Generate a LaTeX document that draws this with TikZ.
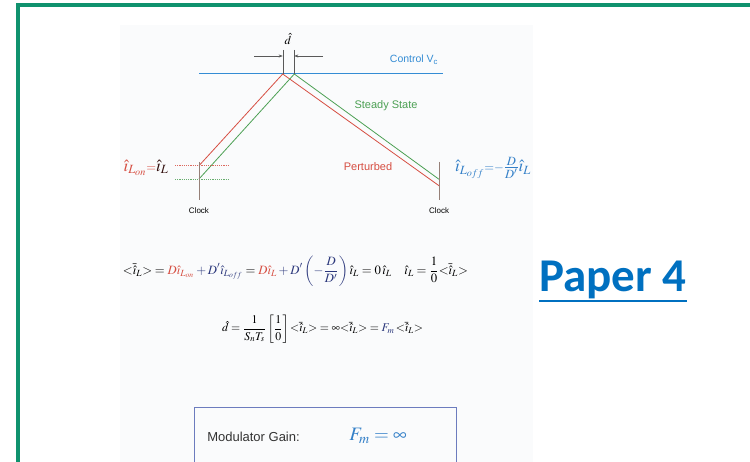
\documentclass[tikz,border=0pt]{standalone}
\usepackage{mathptmx}
\usepackage{fontspec}
\usepackage{graphicx}
\usetikzlibrary{arrows.meta}
\newfontfamily\arialfont{Liberation Sans}
\newfontfamily\calibrifont{Carlito}
\definecolor{framegreen}{RGB}{16,146,110}
\definecolor{ctrlblue}{RGB}{52,140,212}
\definecolor{pertred}{RGB}{214,78,66}
\definecolor{steadygreen}{RGB}{76,160,84}
\definecolor{labelblue}{RGB}{52,128,200}
\definecolor{eqnavy}{RGB}{44,56,124}
\definecolor{boxblue}{RGB}{108,124,190}
\definecolor{paperblue}{RGB}{0,112,192}
\definecolor{panelgray}{RGB}{250,251,252}
\definecolor{clockgray}{RGB}{150,128,120}
\newcommand{\avgi}{{<}\bar{\hat{\imath}}_L{>}}
\begin{document}
\begin{tikzpicture}[x=1pt,y=-1pt,
    txt/.style={inner sep=0pt, font=\arialfont\fontsize{11}{13}\selectfont},
    clk/.style={inner sep=0pt, font=\arialfont\fontsize{8}{9}\selectfont},
    eqn/.style={inner sep=0pt},
    level/.style={line width=0.8pt, dash pattern=on 1.2pt off 1pt}]
    \useasboundingbox (0,0) rectangle (750,462);
    \fill[panelgray] (120,25) rectangle (533,462);
    \draw[framegreen, line width=4.3pt] (17.8,462) -- (17.8,5.3) -- (750,5.3);
    % ramps
    \coordinate (cl) at (199,73.5);
    \coordinate (cr) at (443,73.5);
    \coordinate (rs) at (199,165.7);
    \coordinate (rp) at (282.7,74);
    \coordinate (re) at (439,185.7);
    \coordinate (gs) at (199,179);
    \coordinate (gp) at (294.3,74);
    \coordinate (ge) at (439,179.3);
    \draw[ctrlblue, line width=0.9pt] (cl) -- (cr);
    \draw[pertred, line width=0.8pt] (rs) -- (rp) -- (re);
    \draw[steadygreen, line width=0.8pt] (gs) -- (gp) -- (ge);
    \draw[pertred!85, level] (175,165.7) -- (228,165.7);
    \draw[steadygreen!85, level] (175,179) -- (228,179);
    \draw[clockgray, line width=0.5pt] (199,162) -- (199,200);
    \draw[clockgray, line width=0.5pt] (439,162) -- (439,200);
    \node[clk] (clockL) at (199,211) {Clock};
    \node[clk] (clockR) at (439,211) {Clock};
    % duty cycle perturbation
    \draw[gray!70!black, line width=0.4pt] (282.7,50) -- (rp);
    \draw[gray!70!black, line width=0.4pt] (294.3,50) -- (gp);
    \draw[gray!70!black, line width=0.4pt, -{Stealth[length=4pt,width=3pt]}] (254,56) -- (282.7,56);
    \draw[gray!70!black, line width=0.4pt, -{Stealth[length=4pt,width=3pt]}] (323,56) -- (294.3,56);
    \node[eqn, font=\fontsize{12}{14}\selectfont] (dhat) at (288,39) {$\hat{d}$};
    \node[txt, text=ctrlblue, font=\arialfont\fontsize{10.5}{12}\selectfont] (ctrl) at (414,60) {Control V\textsubscript{c}};
    \node[txt, text=steadygreen] (steady) at (386,106) {Steady State};
    \node[txt, text=pertred] (pert) at (368,167) {Perturbed};
    \node[eqn, font=\fontsize{17}{19}\selectfont] (ion) at (146,168)
        {$\color{pertred}\hat{\imath}_{L_{on}}{\scriptstyle=}\color{black!75!pertred}\hat{\imath}_L$};
    \node[eqn, text=labelblue, font=\fontsize{17}{19}\selectfont] (ioff) at (493,168)
        {$\hat{\imath}_{L_{off}}{\scriptstyle=-}{\textstyle\frac{\scriptstyle D}{\scriptstyle D'}}\hat{\imath}_L$};
    % equations
    \node[eqn] (eqavg) at (295.5,271) {\resizebox{345pt}{!}{$\displaystyle\avgi=\color{pertred}D\hat{\imath}_{L_{on}}\color{eqnavy}+D'\hat{\imath}_{L_{off}}\color{black}=\color{pertred}D\hat{\imath}_L\color{eqnavy}+D'\left(-\frac{D}{D'}\right)\color{black}\hat{\imath}_L=0\,\hat{\imath}_L\quad\hat{\imath}_L=\frac{1}{0}\avgi$}};
    \node[eqn] (eqd) at (322.5,329) {\resizebox{201pt}{!}{$\displaystyle\hat{d}=\frac{1}{S_nT_s}\left[\frac{1}{0}\right]\avgi=\infty\avgi=\color{eqnavy}F_m\,\color{black}\avgi$}};
    % gain box
    \draw[boxblue, line width=1pt] (194,462) -- (194,407) -- (456,407) -- (456,462);
    \node[txt, font=\arialfont\fontsize{13}{15}\selectfont, text=black!80] (gain) at (253.5,437) {Modulator Gain:};
    \node[eqn, text=labelblue, font=\fontsize{19}{21}\selectfont] (gainval) at (378,436) {$F_m=\infty$};
    % title
    \node[inner sep=0pt, text=paperblue, font=\calibrifont\bfseries\fontsize{47}{50}\selectfont] (paper) at (613,280) {Paper 4};
    \draw[paperblue, line width=2.6pt] ([yshift=-2pt]paper.south west) -- ([yshift=-2pt]paper.south east);
\end{tikzpicture}
\end{document}
